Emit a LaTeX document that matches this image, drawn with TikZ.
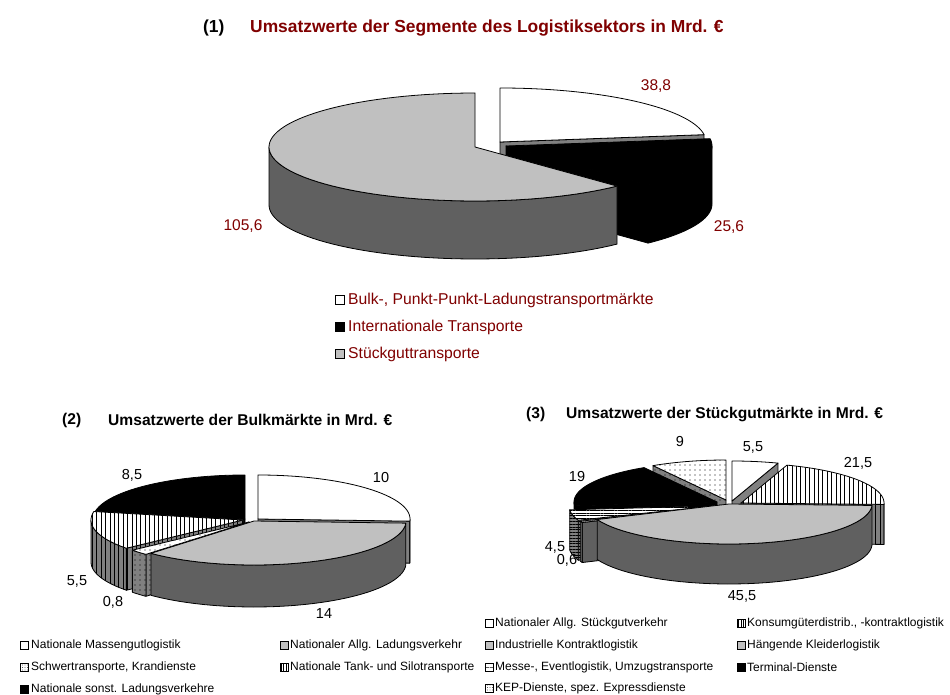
\documentclass[tikz,border=0pt]{standalone}
\usepackage{fontspec}
\setmainfont{Liberation Sans}
\usetikzlibrary{patterns.meta}
\definecolor{maroon}{RGB}{128,0,0}
\definecolor{lgrey}{RGB}{192,192,192}
\definecolor{dgrey}{RGB}{96,96,96}
\definecolor{mgrey}{RGB}{128,128,128}

% one 3D pie slice: cx cy a b h start end topstyle sidestyle (pixel coords, y down)
\newcommand{\pieWall}[3]{%
  \pgfmathsetmacro{\pwlo}{max(\ps,#1)}\pgfmathsetmacro{\pwhi}{min(\pe,#2)}%
  \pgfmathtruncatemacro{\vw}{\pwhi>\pwlo+0.01}%
  \ifnum\vw=1
    \path[#3] plot[domain=\pwlo:\pwhi, samples=50, variable=\t] ({\pcx+\pa*cos(\t)},{\pcy-\pb*sin(\t)}) -- plot[domain=\pwhi:\pwlo, samples=50, variable=\t] ({\pcx+\pa*cos(\t)},{\pcy-\pb*sin(\t)+\ph}) -- cycle;
  \fi
}
\newcommand{\pieslice}[9]{%
  \pgfmathsetmacro{\pcx}{#1}\pgfmathsetmacro{\pcy}{#2}%
  \pgfmathsetmacro{\pa}{#3}\pgfmathsetmacro{\pb}{#4}\pgfmathsetmacro{\ph}{#5}%
  \pgfmathsetmacro{\ps}{#6}\pgfmathsetmacro{\pe}{#7}%
  \pgfmathtruncatemacro{\vs}{cos(\ps)>0.01}%
  \ifnum\vs=1
    \path[#9] (\pcx,\pcy) -- ({\pcx+\pa*cos(\ps)},{\pcy-\pb*sin(\ps)}) -- ({\pcx+\pa*cos(\ps)},{\pcy-\pb*sin(\ps)+\ph}) -- (\pcx,{\pcy+\ph}) -- cycle;
  \fi
  \pgfmathtruncatemacro{\ve}{cos(\pe)<-0.01}%
  \ifnum\ve=1
    \path[#9] (\pcx,\pcy) -- ({\pcx+\pa*cos(\pe)},{\pcy-\pb*sin(\pe)}) -- ({\pcx+\pa*cos(\pe)},{\pcy-\pb*sin(\pe)+\ph}) -- (\pcx,{\pcy+\ph}) -- cycle;
  \fi
  \pieWall{180}{360}{#9}%
  \pieWall{540}{720}{#9}%
  \path[#8] (\pcx,\pcy) -- plot[domain=\ps:\pe, samples=80, variable=\t] ({\pcx+\pa*cos(\t)},{\pcy-\pb*sin(\t)}) -- cycle;
}

\tikzset{
  edge/.style={draw=black, line width=0.8pt, line join=round},
  topW/.style={edge, fill=white},
  topK/.style={edge, fill=black},
  topG/.style={edge, fill=lgrey},
  topV/.style={edge, preaction={fill=white}, pattern={Lines[angle=90,distance=4.4pt,line width=0.8pt]}, pattern color=black},
  topH/.style={edge, preaction={fill=white}, pattern={Lines[angle=0,distance=2.8pt,line width=0.6pt]}, pattern color=black},
  topD/.style={edge, preaction={fill=white}, pattern={Dots[distance=5pt,radius=0.55pt]}, pattern color=black},
  sideW/.style={edge, fill=mgrey},
  sideK/.style={edge, fill=black},
  sideG/.style={edge, fill=dgrey},
  sideV/.style={edge, preaction={fill=mgrey}, pattern={Lines[angle=90,distance=4.4pt,line width=0.8pt]}, pattern color=black},
  sideH/.style={edge, preaction={fill=mgrey}, pattern={Lines[angle=0,distance=2.8pt,line width=0.6pt]}, pattern color=black},
  sideD/.style={edge, preaction={fill=mgrey}, pattern={Dots[distance=5pt,radius=0.55pt]}, pattern color=black},
  ttl/.style={anchor=west, inner sep=0pt, font=\bfseries\fontsize{17.4}{20}\selectfont},
  ttlb/.style={anchor=west, inner sep=0pt, font=\bfseries\fontsize{15.6}{18}\selectfont},
  num1/.style={inner sep=0pt, text=maroon, font=\fontsize{15.5}{18}\selectfont},
  num2/.style={inner sep=0pt, font=\fontsize{14.5}{17}\selectfont},
  leg1/.style={anchor=west, inner sep=0pt, text=maroon, font=\fontsize{15.7}{18}\selectfont},
  leg2/.style={anchor=west, inner sep=0pt, font=\fontsize{12}{14}\selectfont},
  ico/.style={rectangle, draw=black, line width=0.6pt, minimum size=8pt, inner sep=0pt, outer sep=0pt},
  icoW/.style={ico, fill=white},
  icoK/.style={ico, fill=black},
  icoG/.style={ico, fill=lgrey},
  icoV/.style={ico, preaction={fill=white}, pattern={Lines[angle=90,distance=2.6pt,line width=0.6pt]}, pattern color=black},
  icoH/.style={ico, preaction={fill=white}, pattern={Lines[angle=0,distance=4pt,line width=0.6pt]}, pattern color=black},
  icoD/.style={ico, preaction={fill=white}, pattern={Dots[distance=2.5pt,radius=0.45pt]}, pattern color=black},
}

\begin{document}
\begin{tikzpicture}[x=1pt, y=-1pt]
\useasboundingbox (0,0) rectangle (950,695);
\fill[white] (0,0) rectangle (950,695);

% ---------- (1) ----------
\node[ttl] (n1) at (203,28) {(1)};
\node[ttl, text=maroon] (t1) at (250,28) {Umsatzwerte der Segmente des Logistiksektors in Mrd. €};

\pieslice{500}{142}{206}{54}{58}{7.8}{90}{topW}{sideW}
\pieslice{506}{146}{206}{54}{58}{313.6}{367.8}{topK}{sideK}
\pieslice{475}{147}{206}{54}{58}{90}{313.6}{topG}{sideG}

\node[num1] (v11) at (656,86) {38,8};
\node[num1] (v12) at (729,227) {25,6};
\node[num1] (v13) at (243,226) {105,6};

\node[icoW, minimum size=9pt] (i11) at (340,300) {};
\node[leg1] (l11) at (348,300) {Bulk-, Punkt-Punkt-Ladungstransportmärkte};
\node[icoK, minimum size=9pt] (i12) at (340,327) {};
\node[leg1] (l12) at (348,327) {Internationale Transporte};
\node[icoG, minimum size=9pt] (i13) at (340,354) {};
\node[leg1] (l13) at (348,354) {Stückguttransporte};

% ---------- (2) ----------
\node[ttlb] (n2) at (62,420) {(2)};
\node[ttlb] (t2) at (108,420) {Umsatzwerte der Bulkmärkte in Mrd. €};

\pieslice{245}{519}{152}{44}{42}{90}{168.9}{topK}{sideK}
\pieslice{258}{519}{152}{44}{42}{357.2}{450}{topW}{sideW}
\pieslice{243}{520}{152}{44}{42}{168.9}{219.9}{topV}{sideV}
\pieslice{249}{522}{152}{44}{42}{219.9}{227.3}{topD}{sideD}
\pieslice{254}{521}{152}{44}{42}{227.3}{357.2}{topG}{sideG}

\node[num2] (v21) at (132,475) {8,5};
\node[num2] (v22) at (381,478) {10};
\node[num2] (v23) at (77,581) {5,5};
\node[num2] (v24) at (113,602) {0,8};
\node[num2] (v25) at (324,614) {14};

\node[icoW] (i21) at (24,645) {};
\node[leg2] (l21) at (31,645) {Nationale Massengutlogistik};
\node[icoD] (i22) at (24,667) {};
\node[leg2] (l22) at (31,667) {Schwertransporte, Krandienste};
\node[icoK] (i23) at (24,689) {};
\node[leg2] (l23) at (31,689) {Nationale sonst. Ladungsverkehre};
\node[icoG] (i24) at (284,645) {};
\node[leg2] (l24) at (290,645) {Nationaler Allg. Ladungsverkehr};
\node[icoV] (i25) at (284,667) {};
\node[leg2] (l25) at (290,667) {Nationale Tank- und Silotransporte};

% ---------- (3) ----------
\node[ttlb] (n3) at (526,414) {(3)};
\node[ttlb] (t3) at (566,414) {Umsatzwerte der Stückgutmärkte in Mrd. €};

\pieslice{726}{500}{143}{40}{40}{90}{120.68}{topD}{sideD}
\pieslice{732}{501}{143}{40}{40}{71.25}{90}{topW}{sideW}
\pieslice{717}{502}{143}{40}{40}{120.68}{185.45}{topK}{sideK}
\pieslice{741}{503}{143}{40}{40}{357.95}{431.25}{topV}{sideV}
\pieslice{712}{506}{143}{40}{40}{185.45}{200.8}{topH}{sideH}
\pieslice{714}{507}{143}{40}{40}{200.8}{202.84}{topG}{sideG}
\pieslice{729}{504}{143}{40}{40}{202.84}{357.95}{topG}{sideG}

\node[num2] (v31) at (753,447) {5,5};
\node[num2] (v32) at (680,442) {9};
\node[num2] (v33) at (858,463) {21,5};
\node[num2] (v34) at (577,477) {19};
\node[num2] (v35) at (742,596) {45,5};
\node[num2] (v36) at (555,547) {4,5};
\node[num2] (v37) at (567,560) {0,6};

\node[icoW] (i31) at (489,623) {};
\node[leg2] (l31) at (495,623) {Nationaler Allg. Stückgutverkehr};
\node[icoV] (i32) at (741,623) {};
\node[leg2] (l32) at (747,623) {Konsumgüterdistrib., -kontraktlogistik};
\node[icoG] (i33) at (489,645) {};
\node[leg2] (l33) at (495,645) {Industrielle Kontraktlogistik};
\node[icoG] (i34) at (741,645) {};
\node[leg2] (l34) at (747,645) {Hängende Kleiderlogistik};
\node[icoH] (i35) at (489,667) {};
\node[leg2] (l35) at (495,667) {Messe-, Eventlogistik, Umzugstransporte};
\node[icoK] (i36) at (741,667) {};
\node[leg2] (l36) at (747,667) {Terminal-Dienste};
\node[icoD] (i37) at (489,688) {};
\node[leg2] (l37) at (495,688) {KEP-Dienste, spez. Expressdienste};
\end{tikzpicture}
\end{document}
